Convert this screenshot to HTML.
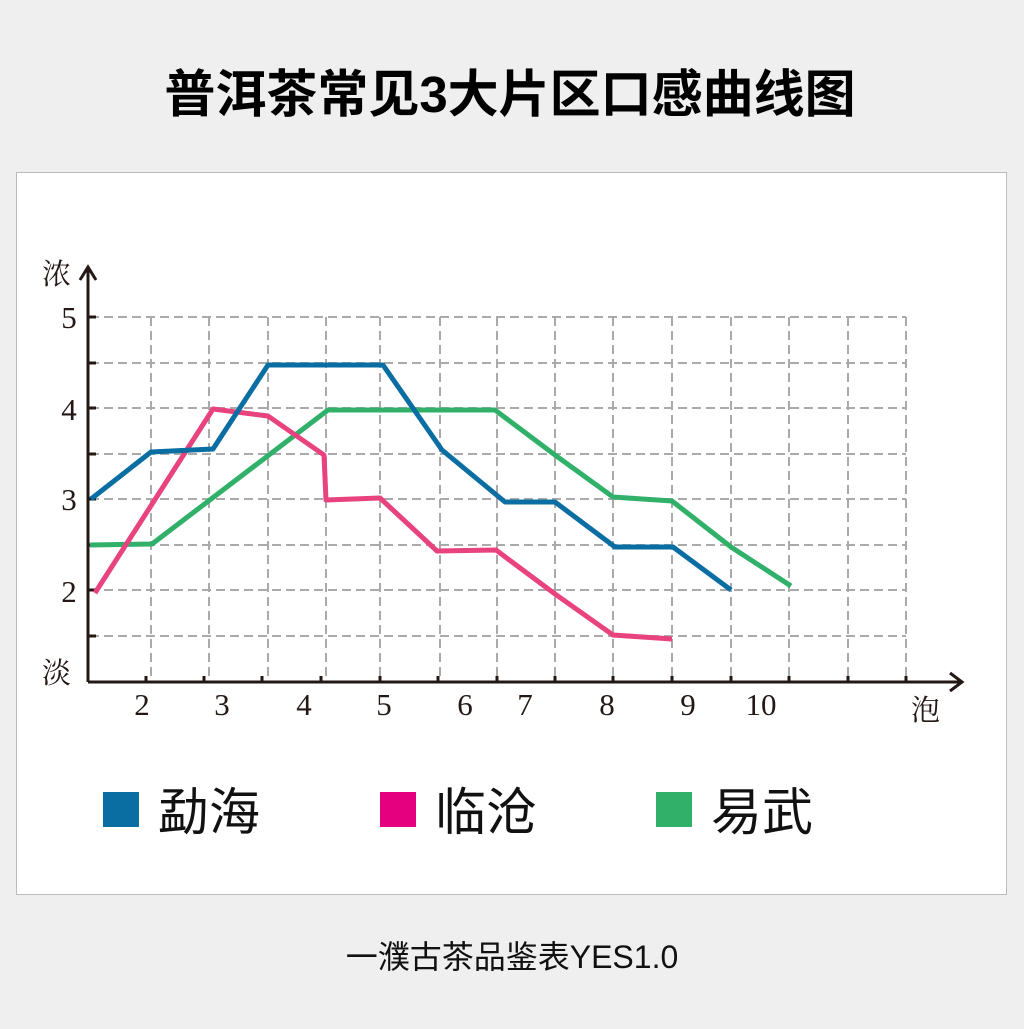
<!DOCTYPE html>
<html><head><meta charset="utf-8"><style>
body{margin:0;width:1024px;height:1024px;background:#efefef;overflow:hidden;font-family:"Liberation Sans","Noto Sans CJK SC",sans-serif}
</style></head><body>
<svg width="1024" height="1024" xmlns="http://www.w3.org/2000/svg">
<rect x="0" y="0" width="1024" height="1024" fill="#efefef"/>
<text x="510" y="112" text-anchor="middle" font-family="Liberation Sans, Noto Sans CJK SC, sans-serif" font-weight="bold" font-size="51" fill="#000">普洱茶常见3大片区口感曲线图</text>
<rect x="16.5" y="172.5" width="990" height="722" fill="#fff" stroke="#bbb" stroke-width="1"/>
<g stroke="#aaa" stroke-width="2" stroke-dasharray="9,5" fill="none">
<path d="M90 317H906M90 363H906M90 408H906M90 454H906M90 499H906M90 545H906M90 590H906M90 636H906"/>
<path d="M151 317V682M209 317V682M268 317V682M326 317V682M380 317V682M440 317V682M497 317V682M555 317V682M613 317V682M672 317V682M731 317V682M789 317V682M848 317V682M906 317V682"/>
</g>
<g stroke="#231815" stroke-width="3" fill="none">
<path d="M88 682V268"/><path d="M80 280L88 267L96 280"/>
<path d="M88 682H962"/><path d="M950 673L962 682L950 691"/>
<path d="M88 317H96M88 363H96M88 408H96M88 454H96M88 499H96M88 545H96M88 590H96M88 636H96"/>
<path d="M146 682V676M204 682V676M262 682V676M321 682V676M380 682V676M438 682V676M497 682V676M555 682V676M613 682V676M672 682V676M731 682V676M789 682V676M848 682V676M906 682V676"/>
</g>
<g font-family="Liberation Serif, serif" font-size="31" fill="#231815" text-anchor="middle">
<text x="69" y="328">5</text><text x="69" y="420">4</text><text x="69" y="510">3</text><text x="69" y="602">2</text>
<text x="142" y="715">2</text><text x="222" y="715">3</text><text x="304" y="715">4</text><text x="384" y="715">5</text><text x="465" y="715">6</text><text x="525" y="715">7</text><text x="607" y="715">8</text><text x="688" y="715">9</text><text x="761" y="715">10</text>
</g>
<g font-family="Noto Serif CJK SC, serif" font-size="29" fill="#231815">
<text x="42" y="284">浓</text><text x="42" y="683">淡</text><text x="911" y="720">泡</text>
</g>
<g fill="none" stroke-width="5" stroke-linejoin="round">
<polyline stroke="#31b06a" points="90,545 152,544 328,410 495,410 555,455 613,497 672,501 731,547 791,586"/>
<polyline stroke="#e8437e" points="95,593 213,409 268,416 324,455 326,500 380,498 437,551 496,550 555,594 613,635 672,639"/>
<polyline stroke="#0b6ea3" points="91,499 151,452 213,449 268,365 383,365 442,450 505,502 555,502 615,547 673,547 731,590"/>
</g>
<rect x="103" y="792" width="36" height="35" fill="#0b6ea3"/>
<rect x="380" y="792" width="36" height="35" fill="#e5007f"/>
<rect x="656" y="792" width="36" height="35" fill="#31b06a"/>
<g font-family="Liberation Sans, Noto Sans CJK SC, sans-serif" font-size="51" fill="#111">
<text x="158" y="830">勐海</text><text x="435" y="830">临沧</text><text x="711" y="830">易武</text>
</g>
<text x="512" y="968" text-anchor="middle" font-family="Liberation Sans, Noto Sans CJK SC, sans-serif" font-size="32" fill="#111">一濮古茶品鉴表YES1.0</text>
</svg>
</body></html>
